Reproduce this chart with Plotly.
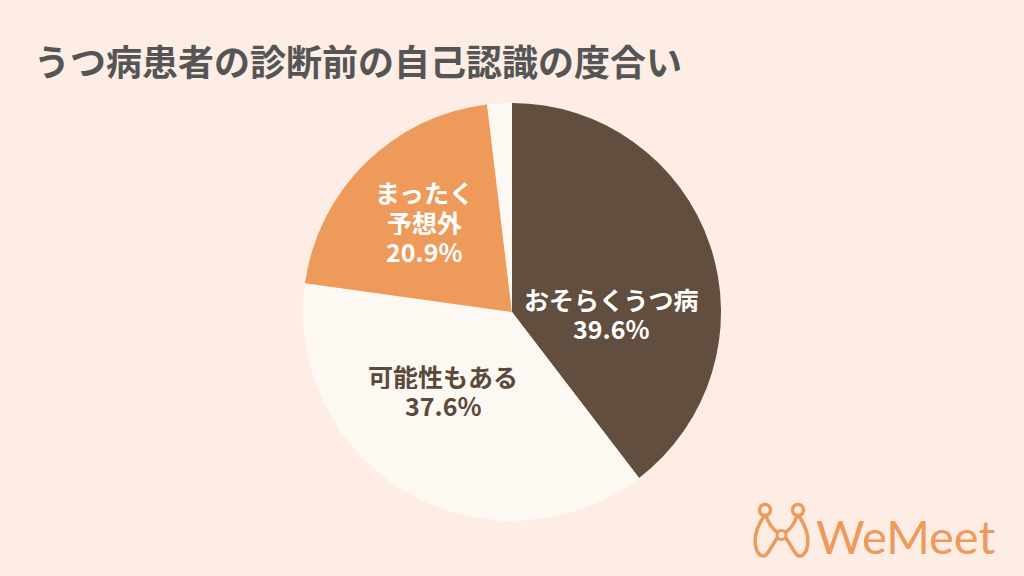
import plotly.graph_objects as go

title = "うつ病患者の診断前の自己認識の度合い"
labels = ["おそらくうつ病", "可能性もある", "まったく予想外", "その他"]
values = [39.6, 37.6, 20.9, 1.9]
label_lines = [["おそらくうつ病"], ["可能性もある"], ["まったく", "予想外"], []]
colors = ["#624E3E", "#FEF8F2", "#EE9A5A", "#FEF8F2"]
text_colors = ["#FFFFFF", "#5A4A3C", "#FFFFFF", "#5A4A3C"]

W, H = 1024, 576
BG = "#FDEDE5"
ORANGE = "#EE9A5A"
CX, CY, R = 512, 312, 209
# label anchor positions (pixels from top-left): center x, first line y
label_pos = [(611, 298), (443, 375), (424, 192), None]
LINE_H = 29

def px(x):
    return x / W

def py(y):
    return 1 - y / H

fig = go.Figure()
fig.add_trace(go.Pie(
    labels=labels,
    values=values,
    textinfo="none",
    sort=False,
    direction="clockwise",
    rotation=0,
    marker=dict(colors=colors, line=dict(width=0)),
    showlegend=False,
    hoverinfo="label+value",
    domain=dict(x=[px(CX - R), px(CX + R)], y=[py(CY + R), py(CY - R)]),
))

annotations = []
for lines, v, pos, c in zip(label_lines, values, label_pos, text_colors):
    if not lines or pos is None:
        continue
    all_lines = lines + [f"{v:.1f}%"]
    for i, t in enumerate(all_lines):
        annotations.append(dict(
            text=t, x=px(pos[0]), y=py(pos[1] + i * LINE_H), xref="paper", yref="paper",
            xanchor="center", yanchor="middle", showarrow=False,
            height=27, borderpad=0, valign="middle",
            font=dict(family="Noto Sans CJK JP", size=25, color=c, weight="bold"),
        ))

annotations.append(dict(
    text=title, x=px(32), y=py(60), xref="paper", yref="paper",
    xanchor="left", yanchor="middle", showarrow=False,
    font=dict(family="Noto Sans CJK JP", size=36, color="#555555", weight="bold")))
annotations.append(dict(
    text="WeMeet", x=px(814), y=py(536), xref="paper", yref="paper",
    xanchor="left", yanchor="middle", showarrow=False,
    font=dict(family="Lato", size=47, color=ORANGE)))

def fmt(x, y):
    return f"{px(x):.5f},{py(y):.5f}"

shapes = []
for cx in (765, 798):
    shapes.append(dict(type="circle", xref="paper", yref="paper",
                       x0=px(cx - 5.5), x1=px(cx + 5.5), y0=py(510 + 5.5), y1=py(510 - 5.5),
                       line=dict(color=ORANGE, width=3.5), fillcolor="rgba(0,0,0,0)"))

left_loop = (f"M {fmt(764,516)} Q {fmt(751,536)} {fmt(757,551)} "
             f"Q {fmt(763,561)} {fmt(769,551)} L {fmt(777,538)}")
left_in = f"M {fmt(766,516)} Q {fmt(770,527)} {fmt(777,532)}"
right_loop = (f"M {fmt(799,516)} Q {fmt(812,536)} {fmt(806,551)} "
              f"Q {fmt(800,561)} {fmt(794,551)} L {fmt(786,538)}")
right_in = f"M {fmt(797,516)} Q {fmt(793,527)} {fmt(786,532)}"
for p in (left_loop, left_in, right_loop, right_in):
    shapes.append(dict(type="path", xref="paper", yref="paper", path=p,
                       line=dict(color=ORANGE, width=3.5)))
shapes.append(dict(type="circle", xref="paper", yref="paper",
                   x0=px(781.5 - 4.5), x1=px(781.5 + 4.5), y0=py(535 + 4.5), y1=py(535 - 4.5),
                   line=dict(color=ORANGE, width=3), fillcolor=BG))

fig.update_layout(
    width=W, height=H,
    paper_bgcolor=BG, plot_bgcolor=BG,
    margin=dict(l=0, r=0, t=0, b=0),
    shapes=shapes,
    annotations=annotations,
)

fig.write_html("out.html", config={"displayModeBar": False},
               post_script="document.body.style.margin='0px';")
